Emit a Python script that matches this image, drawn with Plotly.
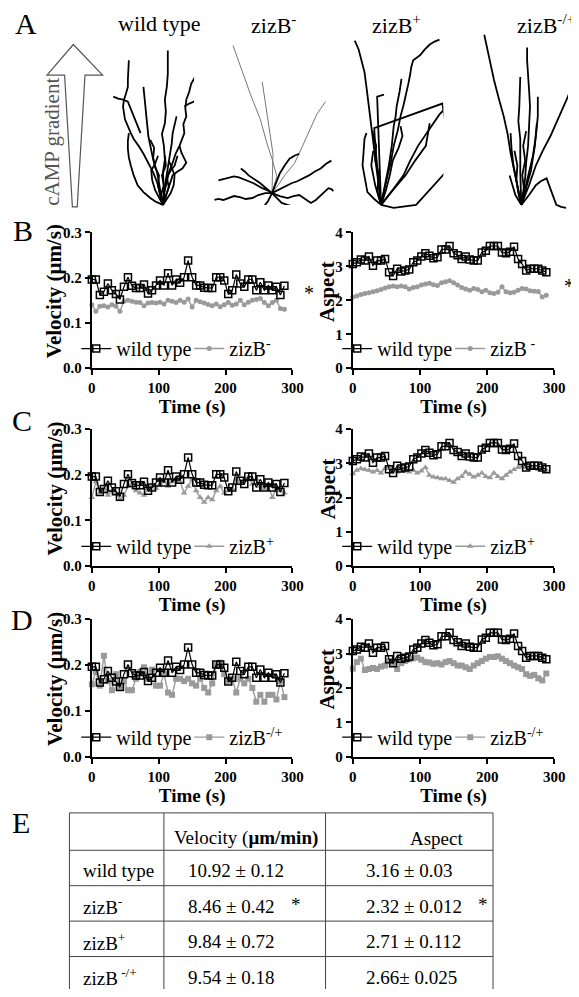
import plotly.graph_objects as go

PAGE_W, PAGE_H = 579, 997
INSET = 8  # the page body margin that plotly's html keeps around the figure
W, H = PAGE_W - INSET, PAGE_H - INSET
FONT = "Liberation Serif, Times New Roman, serif"
GRAY = "#9a9a9a"

# ---- time course data (panels B-D) ----
time_s = [0, 6, 12, 18, 24, 30, 36, 42, 48, 54, 60, 66, 72, 78, 84, 90, 96, 102,
          108, 114, 120, 126, 132, 138, 144, 150, 156, 162, 168, 174, 180, 186,
          192, 198, 204, 210, 216, 222, 228, 234, 240, 246, 252, 258, 264, 270,
          276, 282, 288]

wt_velocity = [0.196, 0.196, 0.162, 0.169, 0.187, 0.172, 0.164, 0.152, 0.180, 0.201,
               0.182, 0.177, 0.177, 0.185, 0.165, 0.172, 0.183, 0.194, 0.183, 0.210,
               0.183, 0.196, 0.189, 0.201, 0.238, 0.201, 0.183, 0.183, 0.178, 0.177,
               0.177, 0.201, 0.201, 0.194, 0.164, 0.172, 0.207, 0.187, 0.180, 0.196,
               0.196, 0.172, 0.190, 0.172, 0.183, 0.172, 0.180, 0.162, 0.182]
wt_aspect = [3.07, 3.12, 3.20, 3.17, 3.29, 3.02, 3.17, 3.17, 3.22, 2.83,
             2.72, 2.93, 2.85, 2.88, 2.91, 3.12, 3.17, 3.29, 3.39, 3.31,
             3.24, 3.27, 3.50, 3.50, 3.60, 3.39, 3.33, 3.22, 3.29, 3.20,
             3.17, 3.17, 3.41, 3.46, 3.60, 3.60, 3.60, 3.41, 3.39, 3.43,
             3.58, 3.22, 3.07, 2.88, 2.93, 2.93, 2.93, 2.88, 2.83]

minus_velocity = [0.140, 0.126, 0.137, 0.138, 0.135, 0.140, 0.137, 0.126, 0.148, 0.150,
                  0.148, 0.146, 0.145, 0.138, 0.144, 0.145, 0.144, 0.146, 0.142, 0.150,
                  0.148, 0.145, 0.150, 0.146, 0.153, 0.135, 0.150, 0.147, 0.144, 0.141,
                  0.138, 0.142, 0.136, 0.140, 0.145, 0.139, 0.142, 0.150, 0.140, 0.146,
                  0.150, 0.152, 0.154, 0.145, 0.138, 0.145, 0.150, 0.132, 0.130]
minus_aspect = [2.10, 2.13, 2.17, 2.20, 2.22, 2.25, 2.28, 2.32, 2.36, 2.40,
                2.42, 2.40, 2.42, 2.40, 2.33, 2.38, 2.40, 2.45, 2.48, 2.50,
                2.46, 2.44, 2.52, 2.55, 2.58, 2.52, 2.45, 2.38, 2.33, 2.30,
                2.35, 2.32, 2.25, 2.30, 2.22, 2.20, 2.24, 2.40, 2.25, 2.22,
                2.24, 2.30, 2.35, 2.33, 2.28, 2.27, 2.26, 2.10, 2.15]

plus_velocity = [0.150, 0.185, 0.160, 0.170, 0.155, 0.165, 0.160, 0.145, 0.155, 0.175,
                 0.180, 0.165, 0.160, 0.155, 0.170, 0.175, 0.170, 0.180, 0.185, 0.175,
                 0.185, 0.190, 0.185, 0.160, 0.175, 0.190, 0.165, 0.150, 0.140, 0.150,
                 0.145, 0.165, 0.175, 0.160, 0.165, 0.170, 0.190, 0.185, 0.190, 0.195,
                 0.180, 0.190, 0.175, 0.170, 0.175, 0.150, 0.170, 0.165, 0.160]
plus_aspect = [2.70, 2.80, 2.85, 2.82, 2.80, 2.75, 2.80, 2.72, 2.85, 2.90,
               2.80, 2.75, 2.80, 2.85, 2.75, 2.80, 2.72, 2.78, 2.88, 2.65,
               2.60, 2.58, 2.55, 2.55, 2.50, 2.45, 2.55, 2.62, 2.75, 2.68,
               2.60, 2.65, 2.72, 2.62, 2.58, 2.72, 2.62, 2.55, 2.65, 2.75,
               2.82, 2.88, 2.90, 2.88, 2.86, 2.85, 2.82, 2.85, 2.80]

rescue_velocity = [0.158, 0.185, 0.155, 0.220, 0.165, 0.145, 0.180, 0.150, 0.165, 0.145,
                   0.145, 0.170, 0.185, 0.195, 0.170, 0.190, 0.155, 0.155, 0.180, 0.140,
                   0.135, 0.170, 0.170, 0.165, 0.170, 0.160, 0.155, 0.170, 0.150, 0.140,
                   0.160, 0.200, 0.205, 0.180, 0.165, 0.170, 0.140, 0.170, 0.160, 0.170,
                   0.150, 0.120, 0.135, 0.120, 0.135, 0.135, 0.125, 0.165, 0.130]
rescue_aspect = [2.56, 2.75, 2.85, 2.52, 2.55, 2.58, 2.55, 2.62, 2.65, 2.78,
                 2.72, 2.55, 2.72, 2.78, 2.83, 2.86, 2.88, 2.82, 2.75, 2.74,
                 2.70, 2.72, 2.68, 2.75, 2.78, 2.72, 2.65, 2.65, 2.60, 2.55,
                 2.65, 2.72, 2.78, 2.85, 2.90, 2.90, 2.92, 2.85, 2.78, 2.72,
                 2.65, 2.60, 2.55, 2.40, 2.35, 2.38, 2.28, 2.22, 2.42]

# ---- cell tracks (panel A), offsets from the start point, upward = toward cAMP ----
wt_tracks_dx = [[0, 1, 4, 6, 10, 13, 17, 20, 22, 21, 24, 23, 24, 27, 29, 33, 37, 40, 42, 44, 45],
                [22, 27, 32, 36, 40],
                [0, 1, 0, 2, 1, -1, 2, 3, 2, 4, 5, 5],
                [0, -3, -6, -10, -15, -20, -25, -30, -33, -36, -39, -41, -40, -38, -36, -36, -35],
                [0, -3, -6, -10, -13, -15, -16, -17, -18, -19, -20],
                [-23, -27, -31, -34, -36, -41, -46, -51],
                [0, -7, -13, -20, -26, -30, -33, -35, -36, -36, -35],
                [0, 5, 10, 15, 20, 24, 22, 19, 17],
                [0, 3, 7, 9, 10, 12, 14],
                [0, -4, -8, -11, -12, -8, -5],
                [0, 4, 8, 11, 12, 9, 6],
                [0, -3, -5, -4, -8, -10, -9, -13],
                [0, 3, 6, 4, 8, 12, 15],
                [0, -2, 1, -1, 3, 2]]
wt_tracks_up = [[0, 12, 23, 33, 43, 52, 60, 67, 73, 82, 90, 98, 107, 115, 123, 130, 137, 145, 153, 163, 172],
                [100, 103, 105, 110, 115],
                [0, 16, 33, 46, 60, 72, 83, 95, 107, 120, 133, 157],
                [0, 12, 23, 33, 43, 52, 60, 67, 73, 80, 87, 100, 107, 113, 120, 127, 147],
                [0, 16, 33, 46, 60, 70, 80, 90, 100, 110, 120],
                [73, 83, 93, 100, 105, 107, 108, 110],
                [0, 3, 7, 13, 20, 30, 40, 48, 57, 65, 73],
                [0, 15, 30, 34, 37, 43, 47, 53, 60],
                [0, 25, 50, 62, 73, 82, 90],
                [0, 8, 15, 25, 35, 42, 50],
                [0, 6, 12, 20, 30, 38, 45],
                [0, 10, 20, 30, 38, 48, 58, 66],
                [0, 8, 18, 28, 35, 40, 50],
                [0, 10, 20, 30, 40, 50]]

minus_faint_dx = [[0, 5, 0, -5, -12, -22, -31, -40],
                  [0, 1, -2, -5, -8, -10],
                  [0, 7, 13, 23, 31, 38, 46, 55]]
minus_faint_up = [[0, 17, 35, 50, 75, 100, 125, 150],
                  [0, 40, 60, 80, 100, 113],
                  [0, 9, 18, 30, 47, 63, 80, 93]]
minus_tracks_dx = [[0, -5, -10, -15, -19, -24, -29, -34, -39, -43, -47, -51, -55],
                   [0, -7, -14, -20, -27, -33, -39, -45, -50, -55, -59],
                   [0, 6, 13, 20, 26, 32, 38, 44, 50, 56, 61],
                   [0, 8, 16, 22, 28, 34, 40, 45, 50, 54, 58, 61, 63],
                   [0, -2, -4, -7, -10],
                   [0, 4, 8, 13, 18, 23, 28],
                   [0, -6, -12, -18, -24, -28, -32],
                   [0, 5, 10, 16, 23, 30, 36]]
minus_tracks_up = [[0, 3, 5, 8, 10, 12, 14, 16, 17, 16, 15, 14, 13],
                   [0, 0, -2, -5, -6, -4, -3, -5, -7, -6, -7],
                   [0, 3, 7, 10, 12, 15, 18, 22, 25, 30, 33],
                   [0, -3, -5, -3, -2, -6, -10, -7, -2, 2, 5, 4, 2],
                   [0, -4, -8, -12, -16],
                   [0, 10, 20, 28, 35, 38, 40],
                   [0, 5, 10, 14, 18, 22, 25],
                   [0, -5, -10, -12, -14, -15, -16]]

plus_tracks_dx = [[0, -3, -6, -9, -12, -15, -17, -20, -23, -27],
                  [0, 3, 6, 10, 13, 17, 20, 23, 26, 28, 30, 31, 33, 40, 45, 50, 55, 60],
                  [0, 12, 23, 30, 38, 45, 53, 60, 68, 72, 76, 81],
                  [0, -2, -4, -6, -7, 63, 65, 68, 70, 73, 68, 36, 13, 0],
                  [0, -7, -14, -17, -19, -18, -17, -15],
                  [0, -1, -2, -3, -4, 3],
                  [0, 4, 8, 11, 13, 15, 16, 19, 21],
                  [0, 12, 25, 35, 46, 48, 50],
                  [0, -3, -6, -8, -10, -9, -8],
                  [0, 5, 9, 12, 18, 22, 20],
                  [0, -4, -2, -6, -5, -9]]
plus_tracks_up = [[0, 25, 50, 75, 100, 120, 135, 148, 158, 167],
                  [0, 14, 27, 43, 60, 75, 90, 101, 113, 123, 133, 140, 147, 152, 158, 163, 166, 168],
                  [0, 15, 30, 45, 60, 70, 82, 92, 100, 104, 107, 100],
                  [0, 20, 40, 60, 78, 103, 90, 70, 45, 20, 35, 0, -3, 0],
                  [0, 6, 13, 27, 40, 53, 67, 73],
                  [0, 25, 50, 80, 110, 112],
                  [0, 20, 40, 60, 80, 90, 100, 115, 128],
                  [0, 15, 30, 45, 60, 72, 83],
                  [0, 10, 20, 30, 40, 48, 55],
                  [0, 15, 30, 45, 58, 70, 80],
                  [0, 15, 30, 45, 60, 75]]

rescue_tracks_dx = [[0, -2, -4, -7, -11, -14, -18, -23, -28, -33, -38],
                    [0, 2, 4, 5, 7, 8, 9, 8, 7, 6, 6],
                    [0, -1, -1, -3, -2, -1],
                    [0, 8, 15, 22, 30, 37, 44, 47, 50],
                    [0, 6, 12, 15, 17, 17, 17],
                    [0, 8, 15, 20, 26, 31, 36, 41, 46],
                    [0, -4, -8, -10, -11],
                    [0, 5, 10, 12, 14, 15, 16],
                    [0, -3, -6, -9, -12],
                    [0, 3, 1, 4, 2, 5],
                    [0, -3, -5, -4, -7]]
rescue_tracks_up = [[0, 10, 20, 36, 53, 72, 90, 108, 127, 150, 173],
                    [0, 13, 27, 43, 60, 80, 100, 117, 133, 147, 160],
                    [0, 33, 67, 85, 100, 130],
                    [0, 20, 40, 55, 70, 85, 100, 108, 115],
                    [0, 25, 50, 70, 90, 100, 110],
                    [0, 10, 20, 24, 27, 13, 0, -2, -3],
                    [0, 20, 40, 57, 73],
                    [0, 18, 35, 48, 60, 72, 83],
                    [0, 5, 10, 20, 30],
                    [0, 15, 30, 45, 60, 75],
                    [0, 12, 25, 40, 55]]

# ---- summary table (panel E) ----
table_header = ["", "Velocity (<b>μm/min)</b>", "Aspect"]
table_genotypes = ["wild type", "zizB<sup>-</sup>", "zizB<sup>+</sup>", "zizB<sup> -/+</sup>"]
table_velocity = ["10.92 ± 0.12", "8.46 ± 0.42", "9.84 ± 0.72", "9.54 ± 0.18"]
table_aspect = ["3.16 ± 0.03", "2.32 ± 0.012", "2.71 ± 0.112", "2.66± 0.025"]
table_significant = [False, True, False, False]


def fx(p):
    return (p - INSET) / W


def fy(p):
    return 1 - (p - INSET) / H


fig = go.Figure()
annotations = []
shapes = []


def note(text, x, y, size, color="black", xanchor="center", weight="normal", **kw):
    annotations.append(dict(text=text, x=fx(x), y=fy(y), xref="paper", yref="paper",
                            xanchor=xanchor, yanchor="middle", showarrow=False,
                            font=dict(family=FONT, size=size, color=color, weight=weight),
                            **kw))


def line(x0, y0, x1, y1, color="#444444", width=1):
    shapes.append(dict(type="line", xref="paper", yref="paper",
                       x0=fx(x0), y0=fy(y0), x1=fx(x1), y1=fy(y1),
                       line=dict(color=color, width=width)))


# ---- panels B-D ----
LEFT = (90, 296)
RIGHT = (358, 565)
ROWS = [(228, 366), (428, 567), (621, 761)]

panels = [
    # (row, columns, wild type, mutant, legend label, symbol, size)
    (0, LEFT, wt_velocity, minus_velocity, "zizB<sup>-</sup>", "circle", 5),
    (0, RIGHT, wt_aspect, minus_aspect, "zizB<sup> -</sup>", "circle", 5),
    (1, LEFT, wt_velocity, plus_velocity, "zizB<sup>+</sup>", "triangle-up", 6),
    (1, RIGHT, wt_aspect, plus_aspect, "zizB<sup>+</sup>", "triangle-up", 6),
    (2, LEFT, wt_velocity, rescue_velocity, "zizB<sup>-/+</sup>", "square", 6),
    (2, RIGHT, wt_aspect, rescue_aspect, "zizB<sup>-/+</sup>", "square", 6),
]

axis_font = dict(family=FONT, size=15, color="black", weight="bold")
for i, (row, cols, wt, other, label, symbol, msize) in enumerate(panels):
    n = i + 1
    sfx = "" if n == 1 else str(n)
    top, bottom = ROWS[row]
    is_vel = cols == LEFT
    leg = "legend" + sfx
    fig.add_trace(go.Scatter(
        x=time_s, y=other, mode="lines+markers", name=label,
        line=dict(color=GRAY, width=1.4),
        marker=dict(symbol=symbol, size=msize, color=GRAY),
        xaxis="x" + sfx, yaxis="y" + sfx, legend=leg, cliponaxis=False))
    fig.add_trace(go.Scatter(
        x=time_s, y=wt, mode="lines+markers", name="wild type",
        line=dict(color="black", width=1.2),
        marker=dict(symbol="square-open", size=7, color="black",
                    line=dict(width=1.5, color="black")),
        xaxis="x" + sfx, yaxis="y" + sfx, legend=leg, cliponaxis=False))
    fig.update_layout(**{
        "xaxis" + sfx: dict(
            domain=[fx(cols[0]), fx(cols[1])], anchor="y" + sfx,
            range=[0, 300], tickvals=[0, 100, 200, 300],
            ticks="outside", ticklen=5, tickwidth=2, tickcolor="black",
            showline=True, linewidth=2, linecolor="black",
            showgrid=False, zeroline=False, tickfont=axis_font,
            title=dict(text="Time (s)", standoff=4,
                       font=dict(family=FONT, size=19, color="black", weight="bold"))),
        "yaxis" + sfx: dict(
            domain=[fy(bottom), fy(top)], anchor="x" + sfx,
            range=[0, 0.3] if is_vel else [0, 4],
            dtick=0.1 if is_vel else 1,
            tickformat=".1f" if is_vel else "d",
            ticks="outside", ticklen=5, tickwidth=2, tickcolor="black",
            showline=True, linewidth=2, linecolor="black",
            showgrid=False, zeroline=False, tickfont=axis_font),
        leg: dict(orientation="h", x=fx(cols[0] - 16), xanchor="left",
                  y=fy(bottom - 20), yanchor="middle", traceorder="reversed",
                  bgcolor="rgba(0,0,0,0)", itemwidth=30,
                  entrywidth=68, entrywidthmode="pixels",
                  font=dict(family=FONT, size=20, color="black")),
    })
    # y-axis titles sit close to the tick labels, as in the original layout
    mid = (top + bottom) / 2 - 9
    if is_vel:
        note("Velocity (μm/s)", 52, mid, 21, weight="bold", textangle=-90)
    else:
        note("Aspect", 332, mid, 21, weight="bold", textangle=-90)

# ---- panel A: tracks ----
track_groups = [
    (163, 200, [(wt_tracks_dx, wt_tracks_up, "black", 1.8)]),
    (275, 188, [(minus_faint_dx, minus_faint_up, "#777777", 1.0),
                (minus_tracks_dx, minus_tracks_up, "black", 1.8)]),
    (387, 200, [(plus_tracks_dx, plus_tracks_up, "black", 1.8)]),
    (531, 200, [(rescue_tracks_dx, rescue_tracks_up, "black", 1.8)]),
]
for k, (ox, oy, sets) in enumerate(track_groups):
    n = 7 + k
    left = max(ox - 80, INSET)
    right = min(ox + 80, PAGE_W)
    for dxs, ups, color, width in sets:
        for dx, up in zip(dxs, ups):
            fig.add_trace(go.Scatter(
                x=dx, y=up, mode="lines", line=dict(color=color, width=width),
                showlegend=False, hoverinfo="skip",
                xaxis=f"x{n}", yaxis=f"y{n}"))
    fig.update_layout(**{
        f"xaxis{n}": dict(domain=[fx(left), fx(right)], anchor=f"y{n}",
                          range=[left - ox, right - ox], visible=False),
        f"yaxis{n}": dict(domain=[fy(oy + 12), fy(oy - 178)], anchor=f"x{n}",
                          range=[-12, 178], visible=False),
    })

# gradient arrow
arrow = [(71, 37), (101, 68), (83, 68), (75, 202), (70, 202), (62, 68), (44, 68)]
path = "M " + " L ".join(f"{fx(a):.4f},{fy(b):.4f}" for a, b in arrow) + " Z"
shapes.append(dict(type="path", path=path, xref="paper", yref="paper",
                   line=dict(color="#555555", width=1.2), fillcolor="white"))

note("A", 22, 16, 30)
note("B", 19, 226, 30)
note("C", 18, 419, 30)
note("D", 18, 621, 30)
note("E", 17, 828, 30)
note("cAMP gradient", 49, 136, 21, color="#555555", textangle=-90)
note("wild type", 159, 16, 22)
note("zizB<sup>-</sup>", 277, 16, 22)
note("zizB<sup>+</sup>", 403, 16, 22)
note("zizB<sup>-/+</sup>", 556, 16, 22)
note("*", 313, 290, 20)
note("*", 580, 282, 20)

# ---- panel E: table grid and text ----
col_edges = [67, 164, 330, 502]
row_edges = [818, 856, 892, 928, 964, 1000]
for xe in col_edges:
    line(xe, row_edges[0], xe, PAGE_H)
for ye in row_edges[:-1]:
    line(col_edges[0], ye, col_edges[-1], ye)

header_y = (row_edges[0] + row_edges[1]) / 2 + 7
note(table_header[1], 172, header_y, 19, xanchor="left")
note(table_header[2], 415, header_y, 19, xanchor="left")
for r in range(len(table_genotypes)):
    yc = (row_edges[r + 1] + row_edges[r + 2]) / 2 + 3
    note(table_genotypes[r], 79, yc, 19, xanchor="left")
    note(table_velocity[r], 187, yc, 19, xanchor="left")
    note(table_aspect[r], 370, yc, 19, xanchor="left")
    if table_significant[r]:
        note("*", 300, yc - 2, 19)
        note("*", 492, yc - 2, 19)

fig.update_layout(
    width=W, height=H, margin=dict(l=0, r=0, t=0, b=0),
    paper_bgcolor="white", plot_bgcolor="white",
    annotations=annotations, shapes=shapes,
    font=dict(family=FONT, color="black"),
)

fig.write_html("out.html")
